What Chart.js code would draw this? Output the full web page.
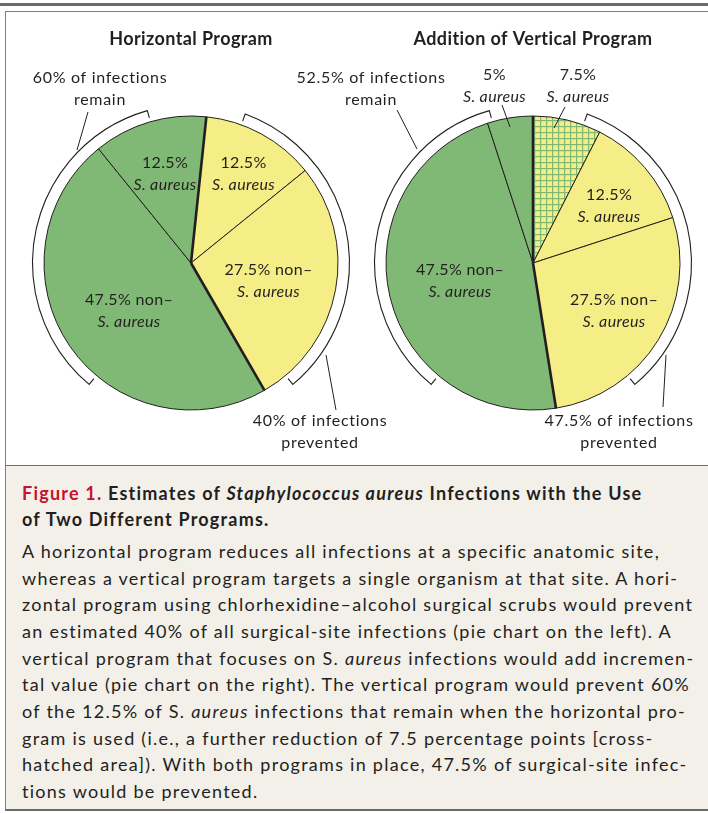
<!DOCTYPE html>
<html><head><meta charset="utf-8">
<script src="https://cdn.jsdelivr.net/npm/chart.js@4"></script>
<style>
body{margin:0;width:708px;height:814px;position:relative;background:#fff;font-family:Lato,sans-serif;overflow:hidden}
#bar{position:absolute;left:0;top:3px;width:708px;height:3px;background:#6b6b6b}
#panel{position:absolute;left:5px;top:11px;width:702px;height:453px;border:1px solid #808080;border-bottom:2px solid #6b6b6b;border-right:none;background:#fff}
#cap{position:absolute;left:5px;top:466px;width:702px;height:343px;border-left:1px solid #808080;border-bottom:2px solid #6b6b6b;background:#f3f0ea}
canvas{position:absolute;left:0;top:12px}
.ln{position:absolute;left:22px;white-space:pre;color:#231f20;font-size:18px;line-height:20px}
.t{font-weight:bold;}
.red{color:#c8102e}
</style></head>
<body>
<div id="bar"></div>
<div id="panel"></div>
<div id="cap"></div>
<canvas id="c1" width="708" height="452"></canvas>
<canvas id="c2" width="708" height="452"></canvas>
<div id="caption"></div>
<script>
// ---------- data ----------
const leftCategories = ['S. aureus prevented', 'non–S. aureus prevented', 'non–S. aureus remaining', 'S. aureus remaining'];
const leftValues = [12.5, 27.5, 47.5, 12.5];
const leftPrevented = [true, true, false, false];
const leftKinds = ['S. aureus', 'non–S. aureus', 'non–S. aureus', 'S. aureus'];

const rightCategories = ['S. aureus prevented by vertical program', 'S. aureus prevented', 'non–S. aureus prevented', 'non–S. aureus remaining', 'S. aureus remaining'];
const rightValues = [7.5, 12.5, 27.5, 47.5, 5];
const rightPrevented = [true, true, true, false, false];
const rightKinds = ['S. aureus', 'S. aureus', 'non–S. aureus', 'non–S. aureus', 'S. aureus'];

const titles = ['Horizontal Program', 'Addition of Vertical Program'];

// ---------- styles / layout ----------
const GREEN = '#80b975';
const YELLOW = '#f5ed85';
const INK = '#231f20';
const FONT = 'Lato, sans-serif';

function hatchPattern() {
  const c = document.createElement('canvas');
  c.width = 6; c.height = 6;
  const g = c.getContext('2d');
  g.fillStyle = YELLOW; g.fillRect(0, 0, 6, 6);
  g.fillStyle = GREEN; g.fillRect(0, 0, 6, 1.2); g.fillRect(0, 0, 1.2, 6);
  return g.createPattern(c, 'repeat');
}

// label offsets (dx, dy) relative to pie center, one per slice
const leftLabelPos = [[52.5, -89], [77.5, 18], [-62, 47.5], [-26, -89.5]];
const rightLabelPos = [[45, -177], [76, -57.5], [81, 47.5], [-73, 17.5], [-38.5, -177]];
const leftOuter = {remain: [-91, -174], prevented: [129, 169]};
const rightOuter = {remain: [-162, -174], prevented: [86, 169]};
const leftLeaders = [[[-103, -151], [-114, -113]], [[135, 92], [145, 147]]];
const rightLeaders = [[[-136, -153], [-116, -114]], [[-31, -158], [-23, -136]], [[32, -156], [21, -135]], [[133, 92], [130, 144]]];
const bracketAngles = [[20, 140], [220, 344]];

function fmt(v) { return v + '%'; }
function sum(vals, flags, want) { return vals.reduce((s, v, i) => s + (flags[i] === want ? v : 0), 0); }

function annotPlugin(cfg) {
  return {
    id: 'annot',
    afterDatasetsDraw(chart) {
      const ctx = chart.ctx;
      const meta = chart.getDatasetMeta(0);
      const arcs = meta.data;
      const cx = arcs[0].x, cy = arcs[0].y, r = arcs[0].outerRadius;
      ctx.save();
      // thick separators between prevented and remaining groups
      ctx.strokeStyle = INK; ctx.lineWidth = 2.6; ctx.lineCap = 'butt';
      const n = arcs.length;
      for (let i = 0; i < n; i++) {
        const prev = (i - 1 + n) % n;
        if (cfg.prevented[i] !== cfg.prevented[prev]) {
          const a = arcs[i].startAngle;
          ctx.beginPath(); ctx.moveTo(cx, cy);
          ctx.lineTo(cx + r * Math.cos(a), cy + r * Math.sin(a)); ctx.stroke();
        }
      }
      // brackets
      ctx.lineWidth = 1.1;
      const rb = r + 11.5, rt = r + 4;
      bracketAngles.forEach(([a0, a1]) => {
        const s = (a0 - 90) * Math.PI / 180, e = (a1 - 90) * Math.PI / 180;
        ctx.beginPath();
        ctx.moveTo(cx + rt * Math.cos(s), cy + rt * Math.sin(s));
        ctx.lineTo(cx + rb * Math.cos(s), cy + rb * Math.sin(s));
        ctx.arc(cx, cy, rb, s, e);
        ctx.lineTo(cx + rt * Math.cos(e), cy + rt * Math.sin(e));
        ctx.stroke();
      });
      // leader lines
      ctx.lineWidth = 1;
      cfg.leaders.forEach(([p, q]) => {
        ctx.beginPath(); ctx.moveTo(cx + p[0], cy + p[1]); ctx.lineTo(cx + q[0], cy + q[1]); ctx.stroke();
      });
      // text
      ctx.fillStyle = INK; ctx.textAlign = 'center'; ctx.textBaseline = 'middle';
      ctx.font = 'bold 18px ' + FONT;
      ctx.letterSpacing = '0.4px';
      ctx.fillText(cfg.title, cx, cy - 224);
      const LH = 22;
      function block(lines, x, y, ls) {
        ctx.letterSpacing = ls;
        const y0 = y - (lines.length - 1) * LH / 2;
        lines.forEach((ln, k) => {
          ctx.font = (ln.italic ? 'italic ' : '') + '16px ' + FONT;
          ctx.fillText(ln.text, x, y0 + k * LH);
        });
      }
      cfg.values.forEach((v, i) => {
        const p = cfg.labelPos[i];
        const lines = cfg.kinds[i] === 'S. aureus'
          ? [{text: fmt(v)}, {text: 'S. aureus', italic: true}]
          : [{text: fmt(v) + ' non–'}, {text: 'S. aureus', italic: true}];
        block(lines, cx + p[0], cy + p[1], '0.35px');
      });
      const rem = sum(cfg.values, cfg.prevented, false);
      const prv = sum(cfg.values, cfg.prevented, true);
      block([{text: fmt(rem) + ' of infections'}, {text: 'remain'}], cx + cfg.outer.remain[0], cy + cfg.outer.remain[1], '0.7px');
      block([{text: fmt(prv) + ' of infections'}, {text: 'prevented'}], cx + cfg.outer.prevented[0], cy + cfg.outer.prevented[1], '0.7px');
      ctx.restore();
    }
  };
}

function makePie(id, cfg, padLeft, padRight, rotation, colors) {
  return new Chart(document.getElementById(id), {
    type: 'pie',
    data: {
      labels: cfg.categories,
      datasets: [{data: cfg.values, backgroundColor: colors, borderColor: INK, borderWidth: 1, borderJoinStyle: 'miter'}]
    },
    options: {
      responsive: false, animation: false, devicePixelRatio: 1,
      radius: 147, rotation: rotation,
      layout: {padding: {top: 50, left: padLeft, right: padRight, bottom: 0}},
      plugins: {legend: {display: false}, tooltip: {enabled: false}, title: {display: false}}
    },
    plugins: [annotPlugin(cfg)]
  });
}

const hatch = hatchPattern();
makePie('c1', {
  categories: leftCategories, values: leftValues, prevented: leftPrevented, kinds: leftKinds,
  labelPos: leftLabelPos, outer: leftOuter, leaders: leftLeaders, title: titles[0]
}, 0, 708 - 382, 6, leftPrevented.map(p => p ? YELLOW : GREEN));
makePie('c2', {
  categories: rightCategories, values: rightValues, prevented: rightPrevented, kinds: rightKinds,
  labelPos: rightLabelPos, outer: rightOuter, leaders: rightLeaders, title: titles[1]
}, 533 * 2 - 708, 0, 0, [hatch, YELLOW, YELLOW, GREEN, GREEN]);

// ---------- caption ----------
const capTitle = [
  '<span class="red">Figure 1.</span> Estimates of <i>Staphylococcus aureus</i> Infections with the Use',
  'of Two Different Programs.'
];
const capBody = [
  'A horizontal program reduces all infections at a specific anatomic site,',
  'whereas a vertical program targets a single organism at that site. A hori-',
  'zontal program using chlorhexidine–alcohol surgical scrubs would prevent',
  'an estimated 40% of all surgical-site infections (pie chart on the left). A',
  'vertical program that focuses on S. <i>aureus</i> infections would add incremen-',
  'tal value (pie chart on the right). The vertical program would prevent 60%',
  'of the 12.5% of S. <i>aureus</i> infections that remain when the horizontal pro-',
  'gram is used (i.e., a further reduction of 7.5 percentage points [cross-',
  'hatched area]). With both programs in place, 47.5% of surgical-site infec-',
  'tions would be prevented.'
];
const capEl = document.getElementById('caption');
function addLines(arr, cls, top0, step, target) {
  const els = arr.map((t, i) => {
    const d = document.createElement('div');
    d.className = cls; d.innerHTML = t; d.style.top = (top0 + i * step) + 'px';
    capEl.appendChild(d);
    return d;
  });
  const w = els[0].getBoundingClientRect().width;
  const nch = els[0].textContent.length;
  const ls = (target - w) / nch;
  els.forEach(d => d.style.letterSpacing = ls + 'px');
}
addLines(capTitle, 'ln t', 498 - 15, 25.7, 621);
addLines(capBody, 'ln', 556 - 15, 26.67, 638);
</script>
</body></html>
